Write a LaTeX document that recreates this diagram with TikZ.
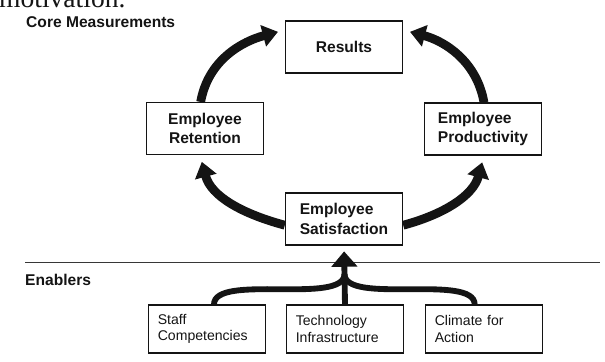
\documentclass[tikz,border=0pt]{standalone}
\usepackage{fontspec}
\setmainfont{Liberation Sans}
\newfontfamily\pageserif{Liberation Serif}
\usetikzlibrary{arrows.meta}
\definecolor{scanink}{HTML}{141414}

\begin{document}
\begin{tikzpicture}[
  x=0.03cm,
  y=0.03cm,
  every node/.style={text=scanink},
  box/.style={draw=scanink, line width=0.9pt, minimum width=3.52cm,
              minimum height=1.56cm, inner sep=2pt},
  corebox/.style={box, font=\fontsize{13.3}{16.5}\selectfont\bfseries},
  enabox/.style={box, minimum height=1.44cm, inner xsep=0.28cm,
                 text width=2.95cm, align=left,
                 font=\fontsize{12}{13.8}\selectfont},
  heading/.style={anchor=west, inner sep=0pt,
                  font=\fontsize{13.3}{15}\selectfont\bfseries},
  cycle/.style={draw=scanink, line width=7.5pt, shorten >=6pt,
                -{Triangle[length=0.46cm, width=0.64cm]}},
  feed/.style={draw=scanink, line width=5pt},
  feedtip/.style={feed, shorten >=5pt,
                  -{Triangle[length=0.46cm, width=0.76cm]}}
]
  \useasboundingbox (0,0) rectangle (605,362);

  % ---- running text of the page, cut at the top ----
  \node[anchor=base west, inner sep=0pt,
        font=\pageserif\fontsize{23.5}{26}\selectfont]
    (pagetext) at (-1,354.5) {motivation.};

  % ---- section headings and divider ----
  \node[heading] (corehead) at (26,340) {Core Measurements};
  \node[heading] (enahead) at (25,82) {Enablers};
  \coordinate (divleft) at (25,100);
  \coordinate (divright) at (600,100);
  \draw[scanink!85, line width=0.7pt] (divleft) -- (divright);

  % ---- core measurement boxes ----
  \node[corebox] (res) at (344,315) {Results};
  \node[corebox, align=center] (ret) at (205,233.5) {Employee\\Retention};
  \node[corebox, align=left] (prod) at (483,233) {Employee\\Productivity};
  \node[corebox, align=left] (sat) at (344,143) {Employee\\Satisfaction};

  % ---- enabler boxes ----
  \node[enabox] (staff) at (207,33) {Staff\\Competencies};
  \node[enabox] (tech) at (345,33) {Technology\\Infrastructure};
  \node[enabox] (clim) at (484,33) {Climate for\\Action};

  % ---- the cycle ----
  \draw[cycle] ([xshift=-0.13cm]ret.north) to[out=80, in=195] (res.164);
  \draw[cycle] ([xshift=0.03cm]prod.north) to[out=100, in=-15] (res.16);
  \draw[cycle] (sat.186) to[out=165, in=-75] ([xshift=-0.15cm]ret.south);
  \draw[cycle] (sat.-6) to[out=15, in=-105] ([xshift=0.03cm]prod.south);

  % ---- enablers feeding satisfaction ----
  \coordinate (join) at (344.5,88);
  \draw[feed] ([xshift=0.21cm]staff.north) to[out=90, in=-90, looseness=0.6] (join);
  \draw[feed] ([xshift=-0.28cm]clim.north) to[out=90, in=-90, looseness=0.6] (join);
  \draw[feedtip] (tech.north) -- (sat.south);
\end{tikzpicture}
\end{document}
